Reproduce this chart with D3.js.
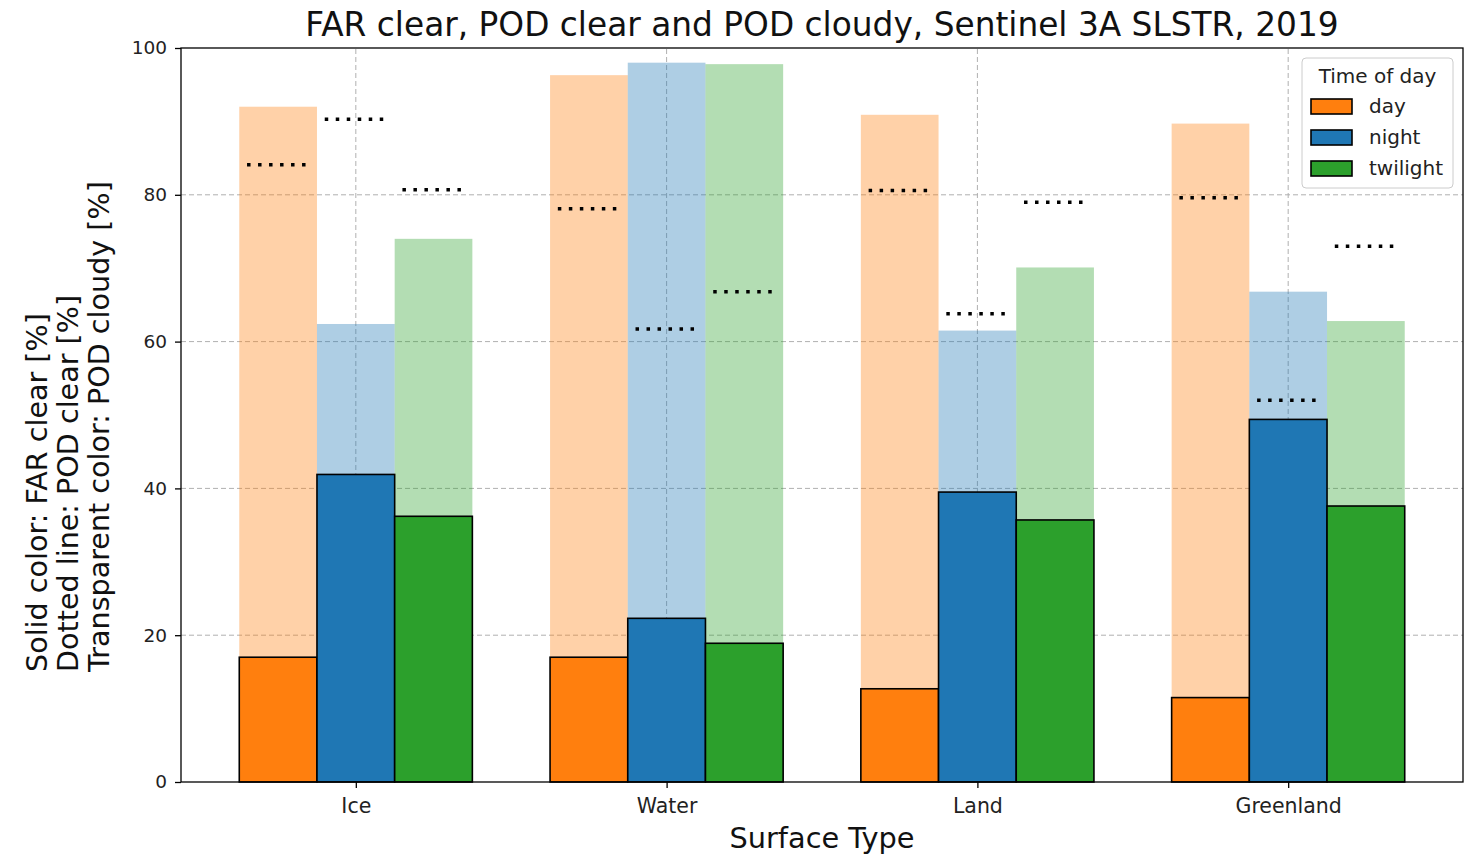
<!DOCTYPE html>
<html>
<head>
<meta charset="utf-8">
<script src="https://cdn.jsdelivr.net/npm/d3@7"></script>
<style>
  html, body { margin: 0; padding: 0; background: #fff; }
  svg { display: block; font-family: "DejaVu Sans", sans-serif; }
</style>
</head>
<body>
<svg id="chart" width="1473" height="855"></svg>
<script>
// Surface types and times of day
const surfaces = ["Ice", "Water", "Land", "Greenland"];
const times = ["day", "night", "twilight"];
const timeColors = ["#ff7f0e", "#1f77b4", "#2ca02c"];

// FAR clear [%] per surface, ordered day / night / twilight
const farClear = [
  [17.0, 41.9, 36.2],
  [17.0, 22.3, 18.9],
  [12.7, 39.5, 35.7],
  [11.5, 49.4, 37.6]
];
// POD clear [%]
const podClear = [
  [84.1, 90.3, 80.7],
  [78.1, 61.7, 66.8],
  [80.6, 63.8, 79.0],
  [79.6, 52.0, 73.0]
];
// POD cloudy [%]
const podCloudy = [
  [92.0, 62.4, 74.0],
  [96.3, 98.0, 97.8],
  [90.9, 61.5, 70.1],
  [89.7, 66.8, 62.8]
];

const yTicks = [0, 20, 40, 60, 80, 100];

const svg = d3.select("#chart");
const margin = { left: 181, right: 10, top: 48, bottom: 73 };
const W = 1473, H = 855;
const plotW = W - margin.left - margin.right;
const plotH = H - margin.top - margin.bottom;

const barW = 0.25;
const x = d3.scaleLinear().domain([-0.5625, 3.5625]).range([margin.left, margin.left + plotW]);
const y = d3.scaleLinear().domain([0, 100]).range([margin.top + plotH, margin.top]);

const g = svg.append("g");

// grid
const grid = g.append("g").attr("stroke", "#b0b0b0").attr("stroke-width", 1).attr("stroke-dasharray", "5,3");
yTicks.forEach(t => {
  if (t === 0 || t === 100) return;
  grid.append("line").attr("x1", x.range()[0]).attr("x2", x.range()[1]).attr("y1", y(t)).attr("y2", y(t));
});
surfaces.forEach((s, i) => {
  grid.append("line").attr("x1", x(i)).attr("x2", x(i)).attr("y1", y(0)).attr("y2", y(100));
});

// flatten into records
const recs = [];
surfaces.forEach((s, i) => {
  times.forEach((t, j) => {
    recs.push({
      i, j,
      pos: i + (j - 1) * barW,
      far: farClear[i][j],
      pclear: podClear[i][j],
      pcloudy: podCloudy[i][j],
      color: timeColors[j]
    });
  });
});

// POD cloudy: transparent bars
g.append("g").selectAll("rect").data(recs).join("rect")
  .attr("x", d => x(d.pos - barW / 2))
  .attr("width", d => x(d.pos + barW / 2) - x(d.pos - barW / 2))
  .attr("y", d => y(d.pcloudy))
  .attr("height", d => y(0) - y(d.pcloudy))
  .attr("fill", d => d.color)
  .attr("fill-opacity", 0.36);

// FAR clear: solid bars with black edge
g.append("g").selectAll("rect").data(recs).join("rect")
  .attr("x", d => x(d.pos - barW / 2))
  .attr("width", d => x(d.pos + barW / 2) - x(d.pos - barW / 2))
  .attr("y", d => y(d.far))
  .attr("height", d => y(0) - y(d.far))
  .attr("fill", d => d.color)
  .attr("stroke", "#000")
  .attr("stroke-width", 1.6);

// POD clear: dotted lines
g.append("g").selectAll("line").data(recs).join("line")
  .attr("x1", d => x(d.pos - 0.1))
  .attr("x2", d => x(d.pos + 0.1))
  .attr("y1", d => y(d.pclear))
  .attr("y2", d => y(d.pclear))
  .attr("stroke", "#000")
  .attr("stroke-width", 3.5)
  .attr("stroke-dasharray", "3.5,7.5");

// axes
const yAxis = d3.axisLeft(y).tickValues(yTicks).tickSize(6).tickPadding(8);
const yg = svg.append("g").attr("transform", `translate(${margin.left},0)`).call(yAxis);
yg.selectAll("text").attr("font-size", 18.5).attr("fill", "#222").attr("font-family", "DejaVu Sans");
yg.selectAll(".tick line").attr("stroke-width", 1.3);
yg.select(".domain").remove();

const xAxis = d3.axisBottom(x).tickValues(d3.range(surfaces.length)).tickFormat(i => surfaces[i]).tickSize(6).tickPadding(10);
const xg = svg.append("g").attr("transform", `translate(0,${y(0)})`).call(xAxis);
xg.selectAll("text").attr("font-size", 20.5).attr("fill", "#222").attr("font-family", "DejaVu Sans");
xg.selectAll(".tick line").attr("stroke-width", 1.3);
xg.select(".domain").remove();

// frame
svg.append("rect")
  .attr("x", x.range()[0]).attr("y", y(100))
  .attr("width", x.range()[1] - x.range()[0]).attr("height", y(0) - y(100))
  .attr("fill", "none").attr("stroke", "#000").attr("stroke-width", 1.3);

// title
svg.append("text").attr("x", (x.range()[0] + x.range()[1]) / 2).attr("y", 36)
  .attr("text-anchor", "middle").attr("font-size", 32.8).attr("fill", "#111")
  .text("FAR clear, POD clear and POD cloudy, Sentinel 3A SLSTR, 2019");

// x label
svg.append("text").attr("x", (x.range()[0] + x.range()[1]) / 2).attr("y", 848)
  .attr("text-anchor", "middle").attr("font-size", 28.8).attr("fill", "#111")
  .text("Surface Type");

// y label, three lines
const ylab = ["Solid color: FAR clear [%]", "Dotted line: POD clear [%]", "Transparent color: POD cloudy [%]"];
const yl = svg.append("g").attr("transform", "translate(47,672) rotate(-90)");
ylab.forEach((t, k) => {
  yl.append("text").attr("x", 0).attr("y", k * 31).attr("text-anchor", "start")
    .attr("font-size", 28.6).attr("fill", "#111").text(t);
});

// legend
const lg = svg.append("g").attr("transform", "translate(1302,58)");
lg.append("rect").attr("width", 151).attr("height", 130).attr("rx", 4)
  .attr("fill", "#fff").attr("fill-opacity", 0.8).attr("stroke", "#ccc");
lg.append("text").attr("x", 75.5).attr("y", 25).attr("text-anchor", "middle")
  .attr("font-size", 20).attr("fill", "#222").text("Time of day");
times.forEach((t, j) => {
  const yy = 48 + j * 31;
  lg.append("rect").attr("x", 9).attr("y", yy - 7).attr("width", 41).attr("height", 15)
    .attr("fill", timeColors[j]).attr("stroke", "#000").attr("stroke-width", 1.6);
  lg.append("text").attr("x", 67).attr("y", yy + 7).attr("font-size", 20).attr("fill", "#222").text(t);
});
</script>
</body>
</html>
